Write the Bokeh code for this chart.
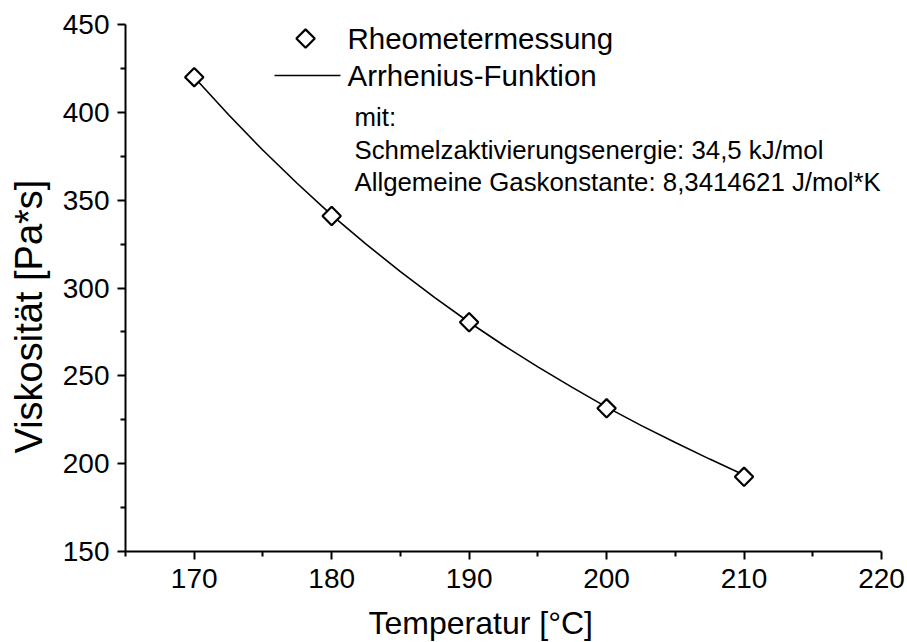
import numpy as np
from bokeh.plotting import figure
from bokeh.models import Range1d, FixedTicker, Label, LinearAxis, Title
from bokeh.embed import file_html
from bokeh.resources import INLINE

# Rheometer measurements
temp_meas = [170, 180, 190, 200, 210]          # °C
visc_meas = [420.0, 341.0, 280.5, 231.5, 192.5]  # Pa*s

# Arrhenius fit curve (sampled)
temp_fit = [170, 172.5, 175, 177.5, 180, 182.5, 185, 187.5, 190,
            192.5, 195, 197.5, 200, 202.5, 205, 207.5, 210]
visc_fit = [420.0, 398.6, 378.4, 359.5, 341.5, 325.0, 309.3, 294.5, 280.5,
            267.4, 255.1, 243.4, 232.2, 221.8, 212.0, 202.6, 193.5]

x_major = [170, 180, 190, 200, 210, 220]
x_minor = [165, 175, 185, 195, 205, 215]
y_major = [150, 200, 250, 300, 350, 400, 450]
y_minor = [175, 225, 275, 325, 375, 425]

legend_labels = ["Rheometermessung", "Arrhenius-Funktion"]
notes = ["mit:",
         "Schmelzaktivierungsenergie: 34,5 kJ/mol",
         "Allgemeine Gaskonstante: 8,3414621 J/mol*K"]
x_title = "Temperatur [°C]"
y_title = "Viskosität [Pa*s]"

FONT = "Liberation Sans"

p = figure(width=907, height=642, output_backend="svg", toolbar_location=None,
           x_range=Range1d(165, 220), y_range=Range1d(150, 450),
           min_border_left=125, min_border_right=26,
           min_border_top=24, min_border_bottom=91)
p.outline_line_color = None
p.xgrid.visible = False
p.ygrid.visible = False
p.background_fill_color = "white"
p.border_fill_color = "white"

for ax, major, minor in ((p.xaxis[0], x_major, x_minor), (p.yaxis[0], y_major, y_minor)):
    ax.ticker = FixedTicker(ticks=major, minor_ticks=minor)
    ax.axis_line_width = 2
    ax.axis_line_color = "black"
    ax.major_tick_line_width = 2
    ax.minor_tick_line_width = 2
    ax.major_tick_in = 0
    ax.major_tick_out = 8
    ax.minor_tick_in = 0
    ax.minor_tick_out = 5
    ax.major_label_text_font = FONT
    ax.major_label_text_font_size = "28px"
    ax.major_label_text_color = "black"

p.xaxis.major_label_standoff = 9
p.yaxis.major_label_standoff = 8


def spacer_axis(gap):
    """Empty axis used only as a fixed gap between tick labels and title."""
    return LinearAxis(ticker=FixedTicker(ticks=[]), axis_line_color=None,
                      major_tick_line_color=None, minor_tick_line_color=None,
                      major_tick_out=0, minor_tick_out=0, major_tick_in=0,
                      minor_tick_in=0, major_label_standoff=0,
                      axis_label=" ", axis_label_standoff=gap,
                      axis_label_text_font_size="1px",
                      axis_label_text_alpha=0)


p.add_layout(spacer_axis(8), "below")
p.add_layout(spacer_axis(6), "left")

# axis titles, shifted a little off the frame centre
p.add_layout(Title(text=x_title, align="left", offset=243, standoff=0,
                   text_font=FONT, text_font_size="32px",
                   text_font_style="normal", text_color="black"), "below")
p.add_layout(Title(text=y_title, align="left", offset=98, standoff=0,
                   text_font=FONT, text_font_size="38px",
                   text_font_style="normal", text_color="black"), "left")

# data
p.line(temp_fit, visc_fit, line_color="black", line_width=1.6)
p.scatter(temp_meas, visc_meas, marker="square", angle=np.pi / 4, size=13,
          fill_color="white", line_color="black", line_width=2.2)

# legend keys
p.scatter([178.1], [442.0], marker="square", angle=np.pi / 4, size=13,
          fill_color="white", line_color="black", line_width=2.2)
p.line([175.84, 180.64], [421.0, 421.0], line_color="black", line_width=1.6)
for txt, yy in zip(legend_labels, [442.0, 421.0]):
    p.add_layout(Label(x=181.15, y=yy, text=txt, text_font=FONT,
                       text_font_size="29.5px", text_color="black",
                       text_baseline="middle", text_align="left"))

# fit parameters
for txt, yy in zip(notes, [397.1, 378.3, 360.1]):
    p.add_layout(Label(x=181.66, y=yy, text=txt, text_font=FONT,
                       text_font_size="25.8px", text_color="black",
                       text_baseline="middle", text_align="left"))

open("out.html", "w").write(file_html(p, INLINE))
